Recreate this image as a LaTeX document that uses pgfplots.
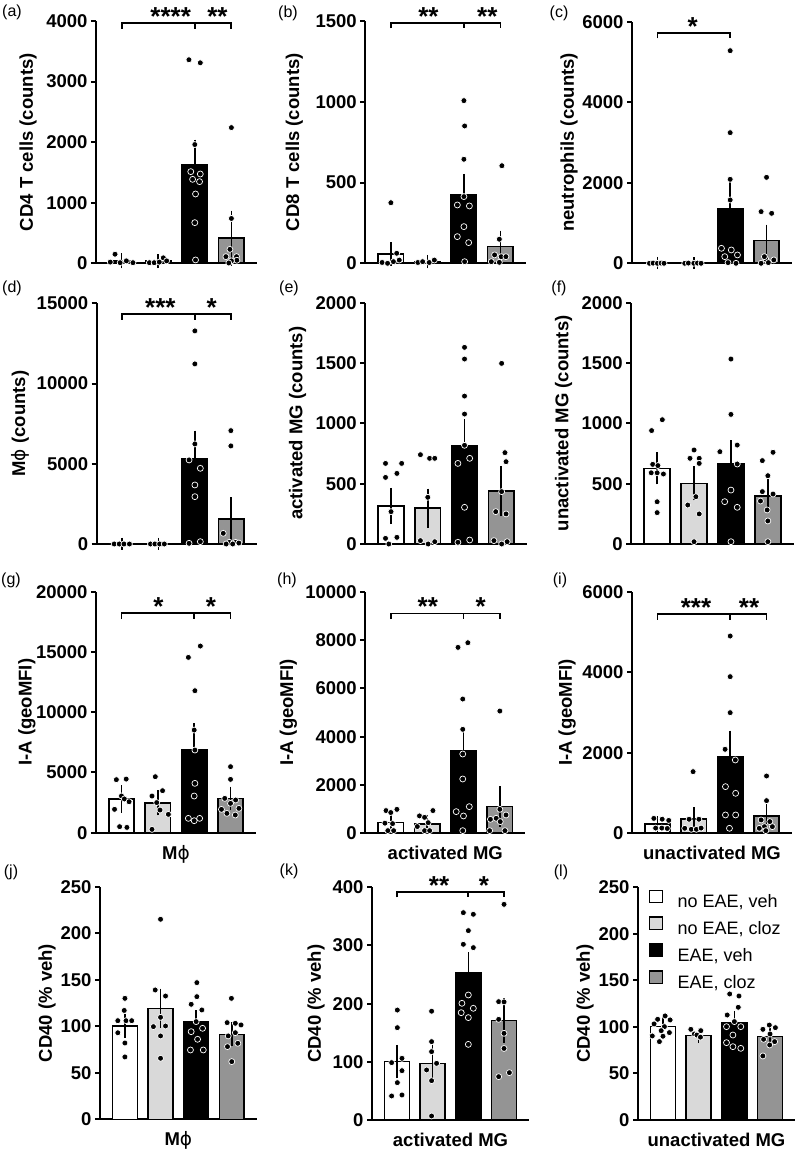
\documentclass[border=0pt]{standalone}
\usepackage{pgfplots}
\pgfplotsset{compat=1.18}
\usepackage{fontspec}
\setmainfont{Liberation Sans}
\newfontfamily\dv{DejaVu Sans}
\definecolor{lg}{gray}{0.85}
\definecolor{dg}{gray}{0.58}
\newcommand{\phisym}{{\dv\mdseries ϕ}}
\pgfplotsset{
 panel/.style={scale only axis, anchor=south west, clip=false, axis lines*=left,
   axis line style={line width=2pt}, xmin=0.3, xmax=4.7, ymin=0, xtick=\empty,
   tick align=outside, major tick length=5pt, ytick style={line width=2pt, black},
   scaled y ticks=false,
   yticklabel style={font=\bfseries\fontsize{18.5}{20}\selectfont},
   /pgf/number format/assume math mode=true, /pgf/number format/1000 sep={},
   ylabel style={font=\bfseries\fontsize{18.5}{20}\selectfont, at={(axis description cs:0,0.5)}, anchor=center},
   xlabel style={font=\bfseries\fontsize{18.5}{20}\selectfont, at={(axis description cs:0.5,0)}, anchor=base, yshift=-26.5pt},
 },
 bar/.style={ybar, bar width=0.7, bar shift=0pt, draw=black, line width=1.6pt, forget plot,
   error bars/y dir=both, error bars/y explicit,
   error bars/error bar style={line width=1.6pt, black, solid},
   error bars/error mark options={line width=1.6pt, black, mark size=6pt}},
 dots/.style={only marks, mark=*, mark size=3pt, mark options={fill=black, draw=white, line width=0.7pt}, forget plot},
}
\newcommand{\bracket}[3]{% y, x-left, x-right
  \draw[line width=1.8pt] (axis cs:#2,#1) ++(0pt,-5.7pt) -- ++(0pt,5.7pt) -- (axis cs:#3,#1) -- ++(0pt,-5.7pt);}
\newcommand{\stars}[3]{% x, y, text
  \node[font=\bfseries\fontsize{26}{26}\selectfont, anchor=base, yshift=-2.5pt, inner sep=0pt] at (axis cs:#1,#2) {#3};}
\newcommand{\midtick}[2]{\draw[line width=1.8pt] (axis cs:#1,#2) -- ++(0pt,-5.7pt);}
\begin{document}
\begin{tikzpicture}
\path[use as bounding box] (0,0) rectangle (799pt,1153pt);
% ---------------- (a)
\begin{axis}[panel, at={(96pt,889.7pt)}, width=161pt, height=242.3pt, ymax=4000,
  ytick={0,1000,2000,3000,4000}, ylabel={CD4 T cells (counts)}, ylabel style={yshift=68pt}]
\addplot[bar, fill=white] coordinates {(1,40) +- (0,25)};
\addplot[bar, fill=lg] coordinates {(2,36) +- (0,15)};
\addplot[bar, fill=black] coordinates {(3,1634) +- (0,310)};
\addplot[bar, fill=dg] coordinates {(4,413) +- (0,357)};
\addplot[dots] coordinates {(0.82,150)(0.69,20)(0.96,10)(1.13,40)(1.31,10)
(1.76,10)(1.89,10)(2.03,20)(2.14,90)(2.23,40)
(2.84,3360)(3.15,3310)(3.0,1960)(2.89,1513)(3.15,1474)(2.94,1386)(3.13,1348)(3.02,1144)(3.0,671)(3.02,55)
(4.0,2240)(4.0,740)(3.96,230)(3.85,110)(4.14,110)(4.15,50)(4.0,40)(3.93,5)};
\bracket{3970}{1}{4}\midtick{3}{3970}
\stars{2.34}{3970}{****}\stars{3.62}{3970}{**}
\end{axis}
% ---------------- (b)
\begin{axis}[panel, at={(365.3pt,889.7pt)}, width=160.7pt, height=242.3pt, ymax=1500,
  ytick={0,500,1000,1500}, ylabel={CD8 T cells (counts)}, ylabel style={yshift=71pt}]
\addplot[bar, fill=white] coordinates {(1,58) +- (0,35)};
\addplot[bar, fill=lg] coordinates {(2,10) +- (0,5)};
\addplot[bar, fill=black] coordinates {(3,423) +- (0,93)};
\addplot[bar, fill=dg] coordinates {(4,103) +- (0,62)};
\addplot[dots] coordinates {(1.0,375)(1.16,62)(0.76,5)(0.91,0)(1.07,10)(1.23,20)
(1.74,5)(1.87,10)(2.05,5)(2.19,20)
(3.0,1007)(3.02,850)(3.0,644)(3.0,413)(2.82,361)(3.15,355)(3.0,227)(2.82,165)(3.13,128)(3.02,10)
(4.04,604)(3.97,149)(3.84,52)(4.02,41)(4.15,41)(3.75,10)(3.97,6)};
\bracket{1490}{1}{4}\midtick{3}{1490}
\stars{2.03}{1490}{**}\stars{3.64}{1490}{**}
\end{axis}
% ---------------- (c)
\begin{axis}[panel, at={(632pt,889.7pt)}, width=160pt, height=241.6pt, ymax=6000,
  ytick={0,2000,4000,6000}, ylabel={neutrophils (counts)}, ylabel style={yshift=63pt}]
\addplot[bar, fill=white] coordinates {(1,5) +- (0,3)};
\addplot[bar, fill=lg] coordinates {(2,3) +- (0,2)};
\addplot[bar, fill=black] coordinates {(3,1341) +- (0,546)};
\addplot[bar, fill=dg] coordinates {(4,563) +- (0,248)};
\addplot[dots] coordinates {(0.78,0)(0.88,5)(1.0,0)(1.1,5)(1.18,0)
(1.75,0)(1.85,5)(2.0,0)(2.1,5)(2.2,0)
(3.0,5280)(3.0,3244)(3.0,2085)(3.0,1572)(2.76,372)(3.03,331)(3.2,207)(2.85,165)(2.94,17)(3.16,0)
(4.0,2135)(3.85,1283)(4.14,1241)(3.98,100)(3.85,0)(4.05,17)(4.2,83)(3.94,165)};
\bracket{5727}{1}{3}
\stars{1.97}{5727}{*}
\end{axis}
% ---------------- (d)
\begin{axis}[panel, at={(96.7pt,609pt)}, width=160pt, height=240.7pt, ymax=15000,
  ytick={0,5000,10000,15000}, ylabel={M\phisym{} (counts)}, ylabel style={yshift=76.7pt}]
\addplot[bar, fill=white] coordinates {(1,0) +- (0,0)};
\addplot[bar, fill=lg] coordinates {(2,0) +- (0,0)};
\addplot[bar, fill=black] coordinates {(3,5300) +- (0,1390)};
\addplot[bar, fill=dg] coordinates {(4,1558) +- (0,977)};
\addplot[dots] coordinates {(0.78,0)(0.92,0)(1.05,0)(1.2,0)
(1.78,0)(1.9,0)(2.03,0)(2.16,0)
(3.0,13279)(3.0,11221)(3.0,6234)(2.84,5237)(3.15,4717)(3.0,3678)(3.0,2951)(2.84,42)(3.15,145)
(3.99,7065)(3.99,6109)(3.78,665)(3.95,104)(4.12,104)(3.86,0)(4.04,0)(4.21,60)};
\bracket{14338}{1}{4}\midtick{3}{14338}
\stars{2.05}{14338}{***}\stars{3.46}{14338}{*}
\end{axis}
% ---------------- (e)
\begin{axis}[panel, at={(365.3pt,609pt)}, width=161.7pt, height=241.3pt, ymax=2000,
  ytick={0,500,1000,1500,2000}, ylabel={activated MG (counts)}, ylabel style={yshift=67.6pt}]
\addplot[bar, fill=white] coordinates {(1,315) +- (0,100)};
\addplot[bar, fill=lg] coordinates {(2,296) +- (0,113)};
\addplot[bar, fill=black] coordinates {(3,812) +- (0,174)};
\addplot[bar, fill=dg] coordinates {(4,439) +- (0,159)};
\addplot[dots] coordinates {(0.85,668)(1.29,668)(0.85,552)(1.16,585)(1.0,268)(0.85,47)(1.16,55)(0.94,0)
(1.8,740)(2.05,710)(2.19,710)(2.0,387)(1.8,28)(2.01,0)(2.19,19)
(3.0,1630)(3.0,1533)(3.0,1226)(3.0,1077)(3.0,818)(2.82,668)(3.14,710)(3.0,304)(2.82,14)(3.14,33)
(4.01,1497)(4.1,757)(4.13,682)(4.01,434)(3.85,268)(4.13,249)(3.8,28)(4.01,0)(4.16,19)};
\end{axis}
% ---------------- (f)
\begin{axis}[panel, at={(631.3pt,609pt)}, width=162.4pt, height=241.3pt, ymax=2000,
  ytick={0,500,1000,1500,2000}, ylabel={unactivated MG (counts)}, ylabel style={yshift=67.6pt}]
\addplot[bar, fill=white] coordinates {(1,627) +- (0,83)};
\addplot[bar, fill=lg] coordinates {(2,503) +- (0,91)};
\addplot[bar, fill=black] coordinates {(3,668) +- (0,144)};
\addplot[bar, fill=dg] coordinates {(4,398) +- (0,91)};
\addplot[dots] coordinates {(1.14,1030)(0.85,940)(0.88,660)(1.02,650)(0.84,590)(1.0,590)(1.17,580)(1.0,350)(1.0,260)
(2.0,779)(1.89,710)(2.14,710)(2.14,668)(2.05,392)(1.83,323)(2.14,249)(2.0,19)
(3.0,1533)(3.0,1074)(3.17,820)(2.7,765)(3.17,663)(3.0,447)(2.83,351)(3.17,304)(3.0,19)
(4.14,760)(3.85,691)(4.0,566)(3.85,434)(4.14,414)(3.8,356)(3.98,282)(4.0,191)(4.0,19)};
\end{axis}
% ---------------- (g)
\begin{axis}[panel, at={(96pt,320.3pt)}, width=160pt, height=241pt, ymax=20000,
  ytick={0,5000,10000,15000,20000}, ylabel={I-A (geoMFI)}, ylabel style={yshift=69pt},
  xlabel={M\phisym}]
\addplot[bar, fill=white] coordinates {(1,2794) +- (0,630)};
\addplot[bar, fill=lg] coordinates {(2,2489) +- (0,550)};
\addplot[bar, fill=black] coordinates {(3,6860) +- (0,1715)};
\addplot[bar, fill=dg] coordinates {(4,2849) +- (0,470)};
\addplot[dots] coordinates {(0.86,4400)(1.13,4450)(1.0,3050)(1.08,2800)(1.21,2570)(0.81,1940)(0.95,500)(1.15,440)
(1.93,4647)(2.13,3485)(1.84,3043)(1.97,2500)(2.06,1881)(2.29,1521)(1.84,277)
(2.84,14549)(3.17,15490)(3.02,11783)(3.0,8519)(3.02,6860)(3.02,4094)(3.0,3043)(2.84,1189)(3.15,1189)(3.0,996)
(4.0,5477)(4.0,4426)(3.84,2849)(4.14,2711)(4.0,2434)(3.75,1936)(4.23,2019)(3.9,1604)(4.13,1466)};
\bracket{18200}{1}{4}\midtick{3}{18200}
\stars{2.02}{18200}{*}\stars{3.46}{18200}{*}
\end{axis}
% ---------------- (h)
\begin{axis}[panel, at={(365.3pt,319.7pt)}, width=160pt, height=241.6pt, ymax=10000,
  ytick={0,2000,4000,6000,8000,10000}, ylabel={I-A (geoMFI)}, ylabel style={yshift=77pt},
  xlabel={activated MG}]
\addplot[bar, fill=white] coordinates {(1,441) +- (0,138)};
\addplot[bar, fill=lg] coordinates {(2,386) +- (0,130)};
\addplot[bar, fill=black] coordinates {(3,3420) +- (0,717)};
\addplot[bar, fill=dg] coordinates {(4,1103) +- (0,593)};
\addplot[dots] coordinates {(0.87,940)(1.0,860)(1.17,990)(0.84,420)(1.05,400)(0.92,110)(1.08,110)
(1.79,720)(1.93,660)(2.16,940)(2.03,440)(1.73,280)(1.93,110)(2.07,110)
(2.85,7695)(3.12,7888)(2.98,5557)(2.98,4303)(2.98,3282)(2.98,2248)(2.8,896)(3.16,1103)(3.0,717)(2.98,110)
(4.0,5061)(4.0,993)(3.74,579)(3.9,621)(4.17,758)(4.01,483)(3.72,110)(4.14,110)};
\bracket{9100}{1}{4}\midtick{3}{9100}
\stars{2.02}{9100}{**}\stars{3.47}{9100}{*}
\end{axis}
% ---------------- (i)
\begin{axis}[panel, at={(632pt,319.7pt)}, width=160pt, height=241.6pt, ymax=6000,
  ytick={0,2000,4000,6000}, ylabel={I-A (geoMFI)}, ylabel style={yshift=65pt},
  xlabel={unactivated MG}]
\addplot[bar, fill=white] coordinates {(1,232) +- (0,40)};
\addplot[bar, fill=lg] coordinates {(2,348) +- (0,150)};
\addplot[bar, fill=black] coordinates {(3,1903) +- (0,497)};
\addplot[bar, fill=dg] coordinates {(4,430) +- (0,149)};
\addplot[dots] coordinates {(0.9,370)(1.13,350)(1.31,320)(0.95,130)(1.12,130)(1.27,120)
(1.98,1531)(1.87,348)(2.14,348)(1.75,124)(1.93,99)(2.07,99)(2.2,130)
(3.0,4899)(3.0,3890)(3.0,2996)(2.86,2086)(3.14,1821)(2.87,1159)(3.15,993)(2.87,455)(3.15,455)(2.98,124)
(4.0,1423)(4.0,811)(3.85,331)(4.09,290)(3.94,165)(3.8,124)(4.16,165)(3.98,66)};
\bracket{5446}{1}{4}\midtick{3}{5446}
\stars{2.06}{5446}{***}\stars{3.52}{5446}{**}
\end{axis}
% ---------------- (j)
\begin{axis}[panel, at={(100pt,33.7pt)}, width=156.7pt, height=232.6pt, ymax=250,
  ytick={0,50,100,150,200,250}, ylabel={CD40 (\% veh)}, ylabel style={yshift=53pt},
  xlabel={M\phisym}]
\addplot[bar, fill=white] coordinates {(1,100.3) +- (0,6.4)};
\addplot[bar, fill=lg] coordinates {(2,119.3) +- (0,14.6)};
\addplot[bar, fill=black] coordinates {(3,105) +- (0,6)};
\addplot[bar, fill=dg] coordinates {(4,91.3) +- (0,6.3)};
\addplot[dots] coordinates {(1.0,130)(0.98,117)(0.8,106)(1.03,106)(1.19,106)(0.8,93)(1.0,82)(1.0,67)
(2.0,215)(1.85,139)(2.14,132.5)(2.0,109.6)(1.8,99.6)(2.14,100.3)(2.0,89.6)(2.0,65.6)
(3.02,146.9)(3.02,131.8)(2.86,123.6)(3.16,117.5)(3.0,105)(2.86,94.2)(3.18,97.8)(3.04,86)(2.84,74.5)(3.2,74.5)
(3.99,130)(4.1,103.2)(4.26,101.4)(3.87,103.9)(3.9,89.6)(4.1,93.1)(4.17,81.7)(3.88,78.1)(4.0,62)};
\end{axis}
% ---------------- (k)
\begin{axis}[panel, at={(372pt,33pt)}, width=157pt, height=232.7pt, ymax=400,
  ytick={0,100,200,300,400}, ylabel={CD40 (\% veh)}, ylabel style={yshift=56pt},
  xlabel={activated MG}]
\addplot[bar, fill=white] coordinates {(1,100.3) +- (0,18.6)};
\addplot[bar, fill=lg] coordinates {(2,97.4) +- (0,21)};
\addplot[bar, fill=black] coordinates {(3,253.3) +- (0,25)};
\addplot[bar, fill=dg] coordinates {(4,170.8) +- (0,28)};
\addplot[dots] coordinates {(1.01,189)(1.01,158.7)(1.14,106)(0.85,98.6)(1.14,84.8)(1.01,64.2)(0.85,41.3)(1.14,43)
(1.97,187)(1.97,134.7)(1.97,117.5)(2.11,97.4)(1.83,86)(1.97,67.6)(1.97,6.9)
(2.86,356.4)(3.14,353.6)(3.0,325.5)(2.86,302)(3.14,296.3)(3.0,214.9)(2.82,200.6)(3.14,192)(2.8,184.5)(3.0,176)(3.0,130)
(4.0,370.7)(3.85,203.4)(4.0,203)(3.85,173)(4.0,149)(4.0,123)(3.85,74.5)(4.15,81.4)};
\bracket{392.5}{1}{4}\midtick{3}{392.5}
\stars{2.18}{392.5}{**}\stars{3.44}{392.5}{*}
\end{axis}
% ---------------- (l)
\begin{axis}[panel, at={(638pt,33pt)}, width=157pt, height=232.7pt, ymax=250,
  ytick={0,50,100,150,200,250}, ylabel={CD40 (\% veh)}, ylabel style={yshift=53pt},
  xlabel={unactivated MG},
  legend image code/.code={\path[draw=none, fill=none] (0pt,0pt) rectangle (27pt,1pt);\draw[#1, line width=1.3pt, draw=black] (0pt,-0.5pt) rectangle (12.5pt,12pt);},
  legend style={at={(axis description cs:0.05,1.0)}, anchor=north west, draw=none, fill=none,
    font=\fontsize{18}{20}\selectfont, row sep=6pt, nodes={inner sep=1pt}},
  legend cell align=left]
\addplot[bar, fill=white] coordinates {(1,100.3) +- (0,4.5)};
\addplot[bar, fill=lg] coordinates {(2,90.6) +- (0,1.5)};
\addplot[bar, fill=black] coordinates {(3,103.9) +- (0,7)};
\addplot[bar, fill=dg] coordinates {(4,89.6) +- (0,3.7)};
\addplot[dots] coordinates {(1.06,111.8)(0.85,108.2)(1.2,107.5)(0.75,103.2)(1.04,100.3)(0.95,96)(1.18,93.9)(0.7,90.3)(0.9,84.2)(1.0,90)
(1.78,97.4)(2.06,96)(1.88,92.4)(1.95,91.3)(2.05,89)
(2.87,135.4)(3.13,133.2)(3.11,121.1)(2.8,112.8)(3.0,105.7)(2.78,100.3)(3.18,100.3)(2.96,91.3)(2.78,83.1)(2.96,78.8)(3.18,77)
(3.98,102)(3.8,97.4)(4.15,99.2)(4.0,92.4)(3.82,86.7)(4.13,84.2)(3.99,80.6)(3.8,68.8)};
\addlegendimage{fill=white}\addlegendentry{no EAE, veh}
\addlegendimage{fill=lg}\addlegendentry{no EAE, cloz}
\addlegendimage{fill=black}\addlegendentry{EAE, veh}
\addlegendimage{fill=dg}\addlegendentry{EAE, cloz}
\end{axis}
% panel labels
\begin{scope}[every node/.style={font=\fontsize{16}{18}\selectfont, inner sep=0pt}]
\node at (12pt,1140.5pt) {(a)};
\node at (288pt,1140pt) {(b)};
\node at (559pt,1140pt) {(c)};
\node at (12pt,865pt) {(d)};
\node at (289pt,865pt) {(e)};
\node at (559pt,865pt) {(f)};
\node at (11pt,573pt) {(g)};
\node at (287pt,573pt) {(h)};
\node at (560pt,573pt) {(i)};
\node at (11pt,281pt) {(j)};
\node at (289pt,282pt) {(k)};
\node at (561pt,281pt) {(l)};
\end{scope}
\end{tikzpicture}
\end{document}
